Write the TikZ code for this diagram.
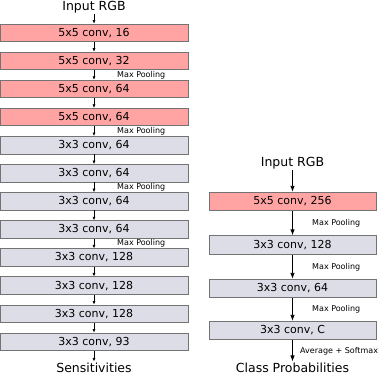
\documentclass[tikz,border=0pt]{standalone}
\usepackage{fontspec}
\setmainfont{DejaVu Sans}
\usetikzlibrary{arrows.meta}
\definecolor{convred}{RGB}{255,163,163}
\definecolor{convgray}{RGB}{221,221,232}
\definecolor{edgegray}{RGB}{115,115,115}
\begin{document}
\begin{tikzpicture}[x=1pt, y=-1pt,
        layer/.style={draw=edgegray, line width=0.8pt, inner sep=0pt, font=\fontsize{11}{13}\selectfont},
        title/.style={inner sep=1pt, font=\fontsize{12.5}{14}\selectfont},
        pool/.style={anchor=west, inner sep=0pt, font=\fontsize{8}{9}\selectfont},
        arr/.style={-{Latex[length=3.5pt,width=3pt]}, line width=0.6pt},
        bigarr/.style={-{Latex[length=6pt,width=4.5pt]}, line width=0.8pt}]
    \useasboundingbox (0,0) rectangle (381,376);

    % sensitivity network
    \node[title] (inl) at (94,7) {Input RGB};
    \foreach \i/\txt/\col in {1/{5x5 conv, 16}/convred, 2/{5x5 conv, 32}/convred,
            3/{5x5 conv, 64}/convred, 4/{5x5 conv, 64}/convred,
            5/{3x3 conv, 64}/convgray, 6/{3x3 conv, 64}/convgray,
            7/{3x3 conv, 64}/convgray, 8/{3x3 conv, 64}/convgray,
            9/{3x3 conv, 128}/convgray, 10/{3x3 conv, 128}/convgray,
            11/{3x3 conv, 128}/convgray, 12/{3x3 conv, 93}/convgray}
        \node[layer, fill=\col, minimum width=188pt, minimum height=17.5pt] (l\i) at (94, {32.8+28.09*(\i-1)}) {\txt};
    \node[title] (sens) at (94,367.5) {Sensitivities};

    \draw[arr] (inl) -- (l1);
    \foreach \i in {1,...,11} {
        \pgfmathtruncatemacro{\j}{\i+1}
        \draw[arr] (l\i) -- (l\j);
    }
    \draw[arr] (l12) -- (sens);
    \foreach \i in {2,4,6,8}
        \node[pool] (pl\i) at (117, {32.8+28.09*(\i-1)+14}) {Max Pooling};

    % classification network
    \node[title] (inr) at (292.5,163) {Input RGB};
    \node[layer, fill=convred, minimum width=167pt, minimum height=18.5pt] (r1) at (292.5,201.5) {5x5 conv, 256};
    \node[layer, fill=convgray, minimum width=167pt, minimum height=18.5pt] (r2) at (292.5,245) {3x3 conv, 128};
    \node[layer, fill=convgray, minimum width=167pt, minimum height=18.5pt] (r3) at (292.5,288.5) {3x3 conv, 64};
    \node[layer, fill=convgray, minimum width=167pt, minimum height=18.5pt] (r4) at (292.5,330.5) {3x3 conv, C};
    \node[title] (cls) at (292.5,367.5) {Class Probabilities};

    \draw[bigarr] (inr) -- (r1);
    \draw[bigarr] (r1) -- (r2);
    \draw[bigarr] (r2) -- (r3);
    \draw[bigarr] (r3) -- (r4);
    \draw[bigarr] (r4) -- (cls);
    \node[pool] (pr1) at (312,223) {Max Pooling};
    \node[pool] (pr2) at (312,267) {Max Pooling};
    \node[pool] (pr3) at (312,309) {Max Pooling};
    \node[pool] (soft) at (300,351) {Average + Softmax};
\end{tikzpicture}
\end{document}
